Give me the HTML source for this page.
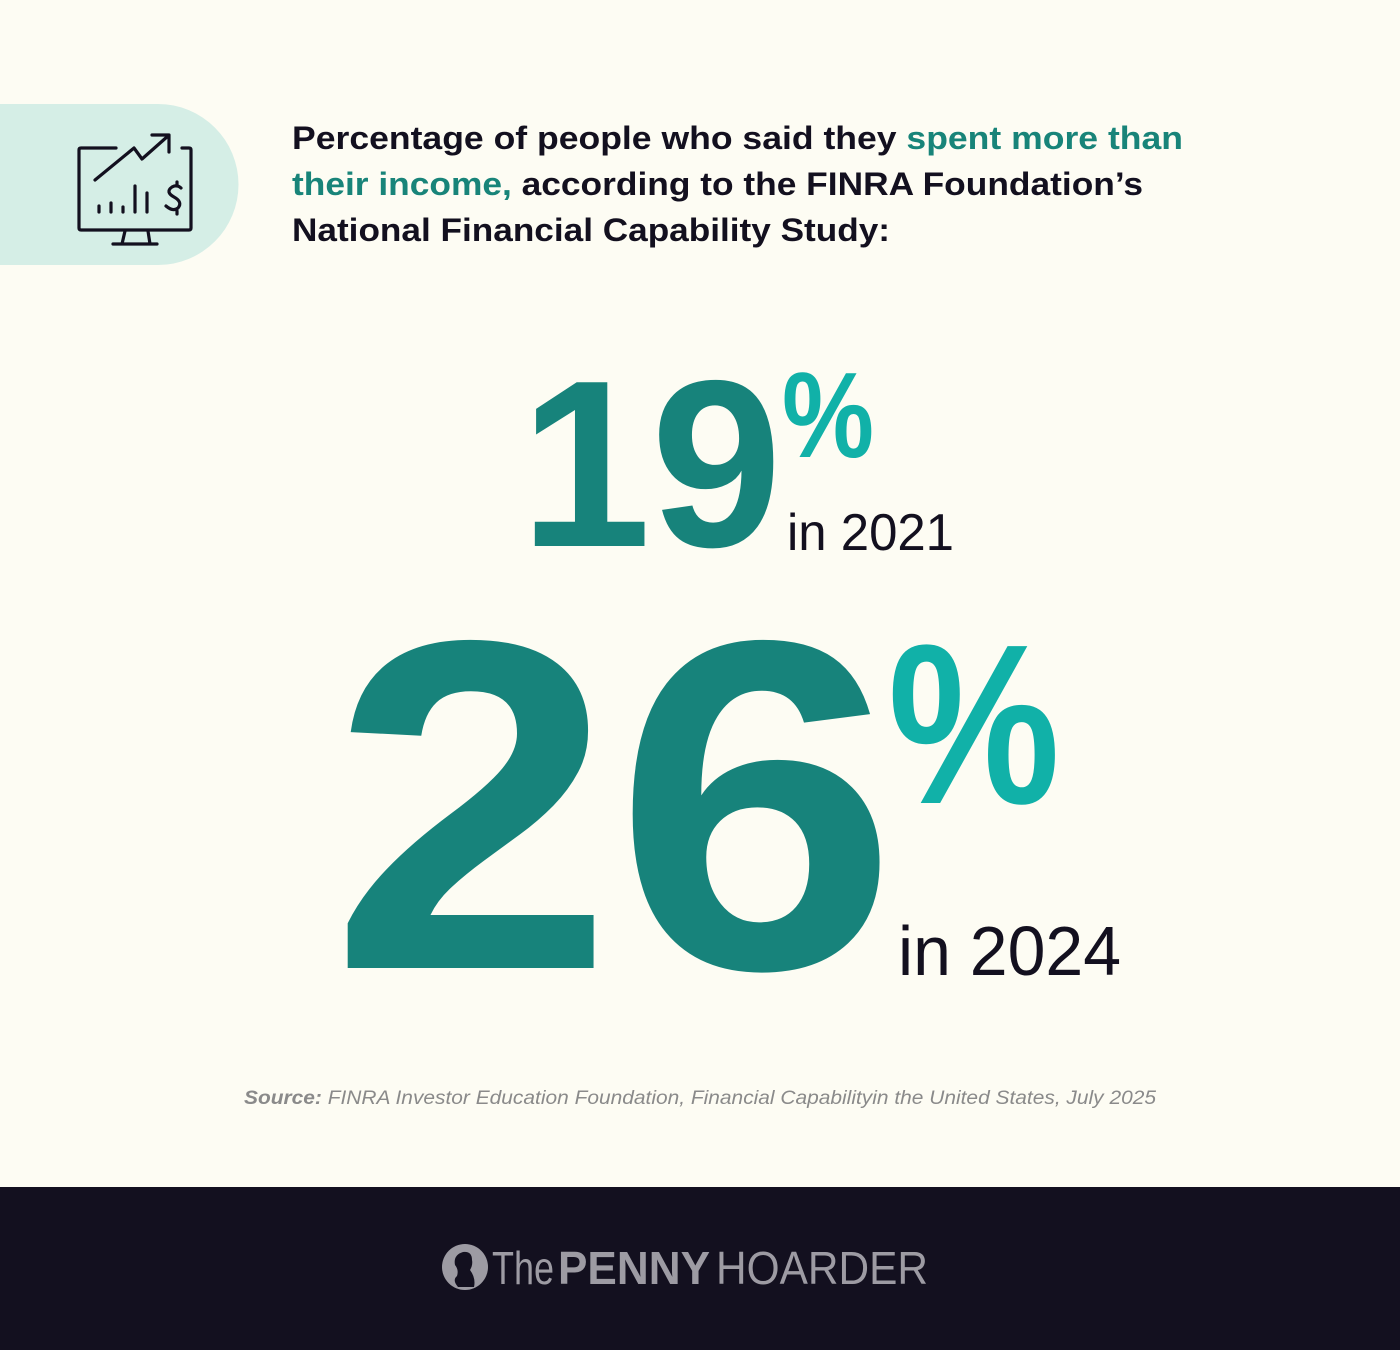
<!DOCTYPE html>
<html><head><meta charset="utf-8"><style>
html,body{margin:0;padding:0;background:#fdfcf3;}
svg{display:block}
</style></head><body>
<svg width="1400" height="1350" viewBox="0 0 1400 1350" xmlns="http://www.w3.org/2000/svg" font-family="Liberation Sans, sans-serif">
<rect width="1400" height="1350" fill="#fdfcf3"/>
<path d="M0 104 H158 A80.5 80.5 0 0 1 158 265 H0 Z" fill="#d5eee6"/>
<g fill="none" stroke="#13101f" stroke-width="3.2" stroke-linecap="round" stroke-linejoin="round">
<path d="M116 148 H81 Q79 148 79 150 V228 Q79 230 81 230 H189 Q191 230 191 228 V150 Q191 148 189 148 H182"/>
<path d="M95 180 L134 148 L142 159 L168 136 M152 135 H169 V152"/>
<path d="M99 212 V206 M111 212 V203 M123 212 V207 M135 212 V186 M147 212 V193"/>
<path d="M177 182 V186 M177 211 V214 M181 188 Q177 184 172 187 Q165 192 174 197 Q183 202 178 208 Q173 212 166 206"/>
<path d="M125 231 L122 244 M148 231 L150 244 M113 244 H157"/>
</g>
<g font-weight="bold" font-size="32" fill="#13101f">
<text x="292" y="149" textLength="891" lengthAdjust="spacingAndGlyphs">Percentage of people who said they <tspan fill="#188479">spent more than</tspan></text>
<text x="292" y="195" textLength="851" lengthAdjust="spacingAndGlyphs"><tspan fill="#188479">their income,</tspan> according to the FINRA Foundation’s</text>
<text x="292" y="241" textLength="598" lengthAdjust="spacingAndGlyphs">National Financial Capability Study:</text>
</g>
<text x="520" y="546" font-size="238" font-weight="bold" fill="#17837b" textLength="262" lengthAdjust="spacingAndGlyphs">19</text>
<text x="782" y="457" font-size="122" font-weight="bold" fill="#11b1a8" textLength="92" lengthAdjust="spacingAndGlyphs">%</text>
<text x="787" y="550" font-size="52" fill="#13101f" textLength="167" lengthAdjust="spacingAndGlyphs">in 2021</text>
<text x="330" y="968" font-size="470" font-weight="bold" fill="#17837b" textLength="568" lengthAdjust="spacingAndGlyphs">26</text>
<text x="888" y="803" font-size="228" font-weight="bold" fill="#11b1a8" textLength="172" lengthAdjust="spacingAndGlyphs">%</text>
<text x="898" y="975" font-size="70" fill="#13101f" textLength="223" lengthAdjust="spacingAndGlyphs">in 2024</text>
<text x="700" y="1104" font-size="19" font-style="italic" fill="#8a8a8a" text-anchor="middle" textLength="912" lengthAdjust="spacingAndGlyphs"><tspan font-weight="bold">Source:</tspan> FINRA Investor Education Foundation, Financial Capabilityin the United States, July 2025</text>
<rect x="0" y="1187" width="1400" height="163" fill="#13101f"/>
<circle cx="465" cy="1267" r="23" fill="#9d9ba3"/>
<path d="M458 1287 Q452 1280 457 1276 Q459 1270 455 1265 Q453 1255 463 1252 Q472 1251 472 1260 Q473 1265 470 1270 Q476 1278 474 1287 Z" fill="#13101f"/>
<g fill="#9d9ba3" font-size="46">
<text x="492" y="1284" textLength="62" lengthAdjust="spacingAndGlyphs">The</text>
<text x="558" y="1284" font-weight="bold" textLength="152" lengthAdjust="spacingAndGlyphs">PENNY</text>
<text x="716" y="1284" textLength="212" lengthAdjust="spacingAndGlyphs">HOARDER</text>
</g>
</svg>
</body></html>
